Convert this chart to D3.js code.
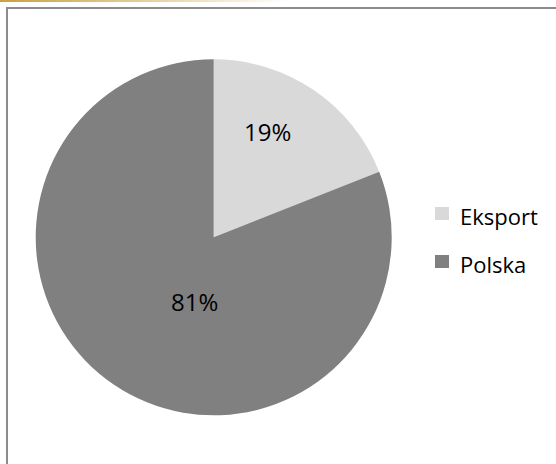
<!DOCTYPE html>
<html>
<head>
<meta charset="utf-8">
<script src="https://cdn.jsdelivr.net/npm/d3@7"></script>
<style>
  html, body { margin: 0; padding: 0; background: #fff; overflow: hidden; }
  svg { display: block; }
</style>
</head>
<body>
<svg id="chart"></svg>
<script>
// Chart data
const categories = ['Eksport', 'Polska'];
const shares = [19, 81];
const sliceColors = ['#d9d9d9', '#808080'];

const width = 556, height = 464;

const svg = d3.select('#chart')
  .attr('width', width)
  .attr('height', height);

// Gold accent line on top, fading out
const defs = svg.append('defs');
const grad = defs.append('linearGradient')
  .attr('id', 'topLine')
  .attr('x1', '0%').attr('x2', '100%');
grad.append('stop').attr('offset', '0%').attr('stop-color', '#c9a13f');
grad.append('stop').attr('offset', '100%').attr('stop-color', '#ffffff');

svg.append('rect')
  .attr('x', 0).attr('y', 0)
  .attr('width', 290).attr('height', 2)
  .attr('fill', 'url(#topLine)');

// Chart area frame (runs past the right/bottom edges)
svg.append('rect')
  .attr('x', 7).attr('y', 8)
  .attr('width', 600).attr('height', 520)
  .attr('fill', '#fff')
  .attr('stroke', '#8c8c8c')
  .attr('stroke-width', 2);

// Pie
const cx = 213.7, cy = 237.3, radius = 178;

const color = d3.scaleOrdinal()
  .domain(categories)
  .range(sliceColors);

const pie = d3.pie()
  .sort(null)
  .value(d => d.value);

const data = categories.map((c, i) => ({ name: c, value: shares[i] }));
const arcs = pie(data);

const arc = d3.arc().innerRadius(0).outerRadius(radius);

const g = svg.append('g')
  .attr('transform', `translate(${cx},${cy})`);

g.selectAll('path.slice')
  .data(arcs)
  .enter()
  .append('path')
  .attr('class', 'slice')
  .attr('d', arc)
  .attr('fill', d => color(d.data.name));

// Data labels (Excel-like placement, nudged per slice)
const labelArc = d3.arc().innerRadius(radius * 0.66).outerRadius(radius * 0.66);
const nudge = { Eksport: [-12, -8], Polska: [47, -32] };
const total = d3.sum(shares);

g.selectAll('text.lbl')
  .data(arcs)
  .enter()
  .append('text')
  .attr('class', 'lbl')
  .attr('transform', d => {
    const [x, y] = labelArc.centroid(d);
    const [nx, ny] = nudge[d.data.name];
    return `translate(${x + nx},${y + ny})`;
  })
  .attr('text-anchor', 'middle')
  .attr('dy', '0.36em')
  .style('font-family', '"Open Sans", sans-serif')
  .style('font-size', '24px')
  .style('fill', '#000')
  .text(d => `${Math.round(d.data.value / total * 100)}%`);

// Legend
const legend = svg.append('g')
  .attr('transform', 'translate(435, 207)');

categories.forEach((c, i) => {
  const row = legend.append('g')
    .attr('transform', `translate(0, ${i * 48})`);

  row.append('rect')
    .attr('width', 14)
    .attr('height', 13)
    .attr('fill', color(c));

  row.append('text')
    .attr('x', 25)
    .attr('y', 18)
    .style('font-family', '"Open Sans", sans-serif')
    .style('font-size', '22px')
    .style('fill', '#000')
    .text(c);
});
</script>
</body>
</html>
